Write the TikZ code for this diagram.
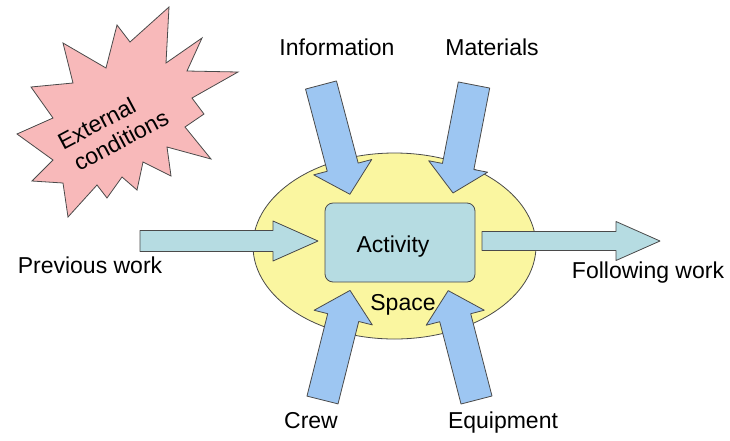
\documentclass[tikz,border=0pt]{standalone}
\usepackage{fontspec}
\setmainfont{Liberation Sans}
\usetikzlibrary{shapes.geometric}
\definecolor{linec}{HTML}{4A4A4A}
\definecolor{spacey}{HTML}{FAF6A0}
\definecolor{vblue}{HTML}{9DC6F2}
\definecolor{hcyan}{HTML}{B6DCE2}
\definecolor{burstpink}{HTML}{F8B9BA}
\tikzset{
  pics/barrow/.style args={#1/#2/#3/#4}{code={
    \path[pic actions] (0,{-#2}) -- ({#1-#4},{-#2}) -- ({#1-#4},{-#3}) -- (#1,0)
      -- ({#1-#4},#3) -- ({#1-#4},#2) -- (0,#2) -- cycle;
  }},
  varrow/.style={draw=linec, fill=vblue, line width=0.8pt},
  harrow/.style={draw=linec, fill=hcyan, line width=0.8pt},
  lbl/.style={font=\fontsize{23}{26}\selectfont, text=black, inner sep=0pt, anchor=base},
  burst/.style={draw=linec, fill=burstpink, line width=0.8pt, line join=miter},
}
\begin{document}
\begin{tikzpicture}[x=1pt,y=-1pt,line join=round]
\useasboundingbox (0,0) rectangle (730,440);
% external conditions burst
\draw[burst] (137,190) -- (122,177) -- (107,198) -- (97,185) -- (68,217) -- (63,183)
  -- (32,181) -- (53,160) -- (17,134) -- (53,118) -- (31,87) -- (73,83) -- (63,43)
  -- (106,68) -- (117,25) -- (130,42) -- (169,7) -- (166,63) -- (202,38) -- (187,71)
  -- (238,72) -- (192,98) -- (204,114) -- (185,127) -- (211,159) -- (167,147)
  -- (171,176) -- (143,162) -- cycle;
\node[font=\fontsize{23}{26}\selectfont, inner sep=0pt, rotate=28, align=left] (ext) at (113,129.5) {External\\\hspace*{4pt}conditions};
% space ellipse
\node[draw=linec, fill=spacey, line width=0.8pt, ellipse, minimum width=283pt, minimum height=186pt, inner sep=0pt] (space) at (394.5,246) {};
% activity box
\node[draw=linec, fill=hcyan, line width=0.8pt, rounded corners=8pt, minimum width=150pt, minimum height=79pt, inner sep=0pt] (activity) at (400,242.5) {};
% arrows
\pic[harrow] (prev) at (140,241) {barrow=178/10.5/20/45};
\pic[harrow] (foll) at (482,241) {barrow=178/9.5/19.5/44};
\pic[varrow, rotate=-75.2] (info) at (321,85) {barrow=113/16/30/28};
\pic[varrow, rotate=-101] (mat) at (474,85) {barrow=110/16/30/27};
\pic[varrow, rotate=75.9] (crew) at (322.5,400) {barrow=113/16/30/28};
\pic[varrow, rotate=104.5] (equip) at (476.5,400) {barrow=113/16/30/28};
% labels
\node[lbl] (tinfo) at (337,55) {Information};
\node[lbl] (tmat) at (492,55) {Materials};
\node[lbl] (tcrew) at (311,428) {Crew};
\node[lbl] (tequip) at (503,428) {Equipment};
\node[lbl] (tprev) at (90,273) {Previous work};
\node[lbl] (tfoll) at (648,278) {Following work};
\node[lbl] (tact) at (393,252) {Activity};
\node[lbl] (tspace) at (403,310) {Space};
\end{tikzpicture}
\end{document}
